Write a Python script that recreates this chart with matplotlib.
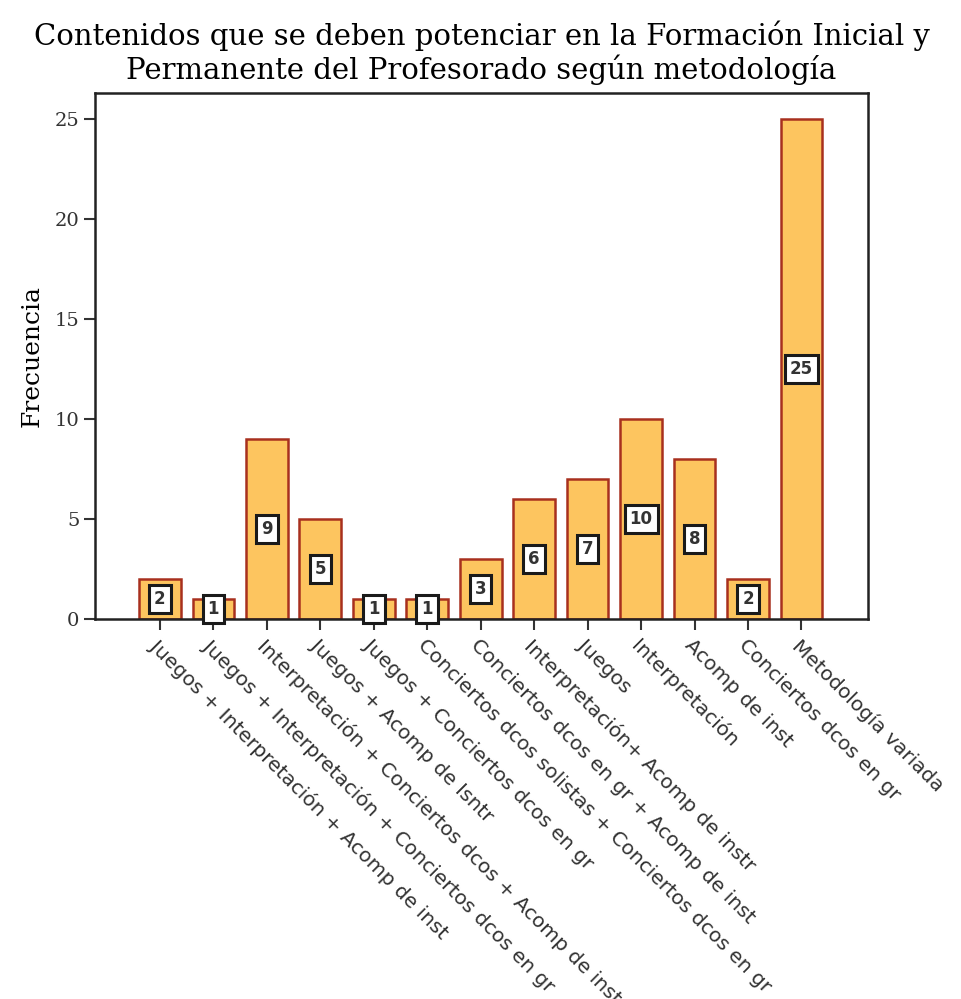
import matplotlib.pyplot as plt
import numpy as np

# datos
categorias = [
    'Juegos + Interpretación + Acomp de inst',
    'Juegos + Interpretación + Conciertos dcos en gr',
    'Interpretación + Conciertos dcos + Acomp de inst',
    'Juegos + Acomp de Isntr',
    'Juegos + Conciertos dcos en gr',
    'Conciertos dcos solistas + Conciertos dcos en gr',
    'Conciertos dcos en gr + Acomp de inst',
    'Interpretación+ Acomp de instr',
    'Juegos',
    'Interpretación',
    'Acomp de inst',
    'Conciertos dcos en gr',
    'Metodología variada',
]
frecuencias = [2, 1, 9, 5, 1, 1, 3, 6, 7, 10, 8, 2, 25]
yticks = [0, 5, 10, 15, 20, 25]

fig = plt.figure(figsize=(9.62, 9.99), dpi=100)
ax = fig.add_axes([0.099, 0.380, 0.803, 0.527])

x = np.arange(len(categorias))
ax.bar(x, frecuencias, width=0.78, color='#FDC55F', edgecolor='#A8301E', linewidth=1.8, zorder=2)

# etiquetas de valor en caja
for xi, v in zip(x, frecuencias):
    ax.text(xi, v / 2, str(v), ha='center', va='center', fontsize=12, fontweight='bold',
            family='DejaVu Sans', color='#333333', zorder=3,
            bbox=dict(boxstyle='square,pad=0.3', fc='white', ec='#1a1a1a', lw=2.2))

ax.set_xlim(-1.21, 13.24)
ax.set_ylim(0, 26.3)
ax.set_xticks(x)
ax.set_xticklabels(categorias, rotation=-45, ha='left', va='top', rotation_mode='anchor',
                   fontsize=14.5, family='DejaVu Sans', color='#333333')
ax.set_yticks(yticks)
ax.set_yticklabels([str(t) for t in yticks], fontsize=14, family='DejaVu Serif', color='#333333')
ax.tick_params(axis='both', direction='out', length=8, width=1.5, color='#333333')
ax.tick_params(axis='x', pad=4)

for s in ax.spines.values():
    s.set_linewidth(1.8)
    s.set_color('#222222')

ax.set_ylabel('Frecuencia', fontsize=18, family='DejaVu Serif', labelpad=8)
ax.set_title('Contenidos que se deben potenciar en la Formación Inicial y\nPermanente del Profesorado según metodología',
             fontsize=21, family='DejaVu Serif', pad=10, linespacing=1.15)

fig.savefig('out.png', dpi=100)
